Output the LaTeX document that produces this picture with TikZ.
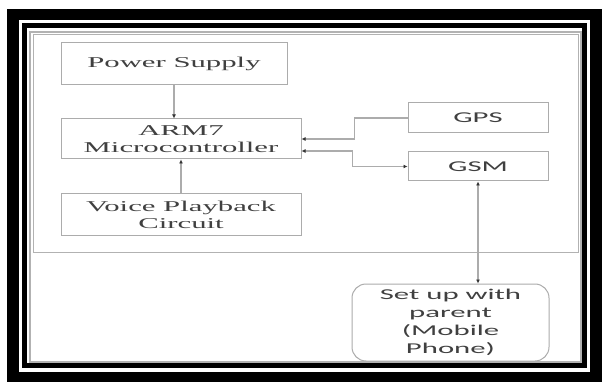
\documentclass[tikz,border=0pt]{standalone}
\usepackage{fontspec}
\usetikzlibrary{arrows.meta, positioning}
\newfontfamily\wideserif[FakeStretch=2.05]{Liberation Serif}
\newfontfamily\widesans[FakeStretch=2.05]{Carlito}

\begin{document}
\begin{tikzpicture}[
    x=1pt, y=-1pt,
    block/.style={rectangle, draw=gray!65, line width=1pt, inner sep=0pt, text=black!75, align=center},
    serifbox/.style={block, font=\wideserif\fontsize{15}{17}\selectfont},
    sansbox/.style={block, font=\widesans\fontsize{15}{18}\selectfont},
    link/.style={draw=gray!65, line width=1.2pt},
    arrow/.style={link, -{Latex[length=4pt, width=4pt, color=black!80]}},
    twoway/.style={link, {Latex[length=4pt, width=4pt, color=black!80]}-{Latex[length=4pt, width=4pt, color=black!80]}},
]
    \useasboundingbox (0,0) rectangle (602,382);
    \fill[black] (7,9) rectangle (602,382);
    \fill[white] (19,20) rectangle (590,372);
    \draw[line width=4.5pt] (24.5,25.5) rectangle (584.5,365.5);
    \draw[gray!60, line width=2pt] (30,32) rectangle (580.5,361.5);
    \draw[gray!60, line width=1pt] (33,35) rectangle (578,252);

    \node[serifbox, minimum width=226pt, minimum height=42pt] (pwr) at (174,64) {Power Supply};
    \node[serifbox, minimum width=240pt, minimum height=40pt, below right=33pt and 0pt of pwr.south west] (arm) {ARM7\\Microcontroller};
    \node[serifbox, minimum width=240pt, minimum height=41pt, below=34pt of arm] (voice) {Voice Playback\\Circuit};
    \node[sansbox, minimum width=140pt, minimum height=30pt] (gps) at (478,118) {GPS};
    \node[sansbox, minimum width=140pt, minimum height=29pt, below=18pt of gps] (gsm) {GSM};
    \node[sansbox, rounded corners=14pt, minimum width=197pt, minimum height=77pt] (phone) at (450.5,322.5) {Set up with\\parent\\(Mobile\\Phone)};

    \draw[arrow] (pwr.south) -- (pwr.south |- arm.north);
    \draw[arrow] (voice) -- (arm);
    \draw[arrow] (gps.west) -- ++(-53,0) |- (arm.east);
    \draw[twoway] ([yshift=-12pt]arm.east) -- ++(51,0) |- (gsm.west);
    \draw[twoway] (gsm.south) -- (gsm.south |- phone.north);
\end{tikzpicture}
\end{document}
